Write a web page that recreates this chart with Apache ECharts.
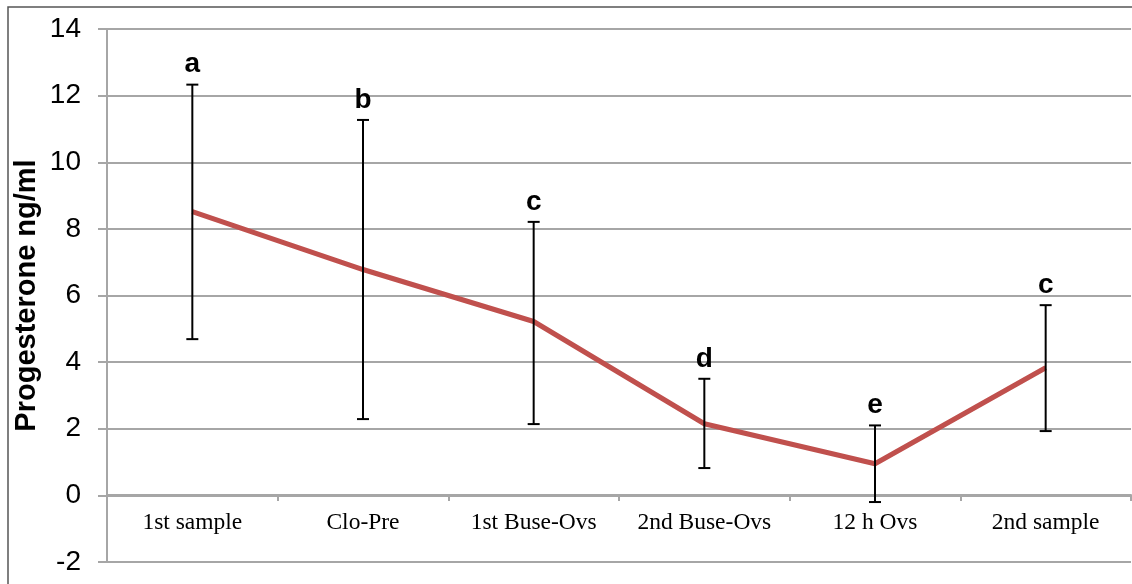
<!DOCTYPE html>
<html>
<head>
<meta charset="utf-8">
<script src="https://cdn.jsdelivr.net/npm/echarts@6/dist/echarts.min.js"></script>
<style>
html,body{margin:0;padding:0;background:#fff;}
#chart{width:1132px;height:584px;}
</style>
</head>
<body>
<div id="chart"></div>
<script>
const categories = ['1st sample', 'Clo-Pre', '1st Buse-Ovs', '2nd Buse-Ovs', '12 h Ovs', '2nd sample'];
const meanValues = [8.52, 6.78, 5.22, 2.15, 0.95, 3.83];
const upperValues = [12.33, 11.27, 8.21, 3.5, 2.1, 5.71];
const lowerValues = [4.69, 2.29, 2.14, 0.82, -0.2, 1.93];
const letters = ['a', 'b', 'c', 'd', 'e', 'c'];
const yTicks = [-2, 0, 2, 4, 6, 8, 10, 12, 14];

const errData = categories.map((c, i) => [i, lowerValues[i], upperValues[i], letters[i]]);

const chart = echarts.init(document.getElementById('chart'), null, {renderer: 'canvas'});
const gridColor = '#a6a6a6';
chart.setOption({
  animation: false,
  backgroundColor: '#fff',
  graphic: [{
    type: 'rect', shape: {x: 8, y: 7, width: 1200, height: 600},
    style: {fill: 'none', stroke: '#555', lineWidth: 1.5}, z: -1
  }],
  grid: {left: 107, right: 1, top: 29, bottom: 22, containLabel: false, outerBoundsMode: 'none'},
  xAxis: {
    type: 'category', data: categories, boundaryGap: true, position: 'bottom', offset: -67,
    axisLine: {onZero: false, lineStyle: {color: gridColor, width: 2}},
    axisTick: {show: true, interval: 0, alignWithLabel: false, length: 6, inside: false, lineStyle: {color: gridColor, width: 2}},
    axisLabel: {interval: 0, color: '#000', fontFamily: 'Liberation Serif', fontSize: 23.5, margin: 16},
    splitLine: {show: false}
  },
  yAxis: {
    type: 'value', min: -2, max: 14, interval: 2,
    name: 'Progesterone ng/ml', nameLocation: 'middle', nameGap: 66, nameRotate: 90, nameMoveOverlap: false,
    nameTextStyle: {fontFamily: 'Liberation Sans', fontWeight: 'bold', fontSize: 29, color: '#000'},
    axisLine: {show: true, lineStyle: {color: gridColor, width: 2}},
    axisTick: {show: true, length: 9, lineStyle: {color: gridColor, width: 2}},
    axisLabel: {color: '#000', fontFamily: 'Liberation Sans', fontSize: 28, margin: 26,
      formatter: v => yTicks.includes(v) ? String(v) : ''},
    splitLine: {show: true, lineStyle: {color: gridColor, width: 2}}
  },
  series: [
    {
      type: 'line', data: meanValues, symbol: 'none',
      lineStyle: {color: '#c0504d', width: 5}, z: 3
    },
    {
      type: 'custom', data: errData, z: 4,
      renderItem: function (params, api) {
        const x = api.value(0);
        const lo = api.coord([x, api.value(1)]);
        const hi = api.coord([x, api.value(2)]);
        const cap = 6;
        const st = {stroke: '#000', lineWidth: 2};
        return {
          type: 'group',
          children: [
            {type: 'line', shape: {x1: hi[0], y1: hi[1], x2: lo[0], y2: lo[1]}, style: st},
            {type: 'line', shape: {x1: hi[0] - cap, y1: hi[1], x2: hi[0] + cap, y2: hi[1]}, style: st},
            {type: 'line', shape: {x1: lo[0] - cap, y1: lo[1], x2: lo[0] + cap, y2: lo[1]}, style: st},
            {type: 'text', style: {text: api.value(3), x: hi[0], y: hi[1] - 6,
              align: 'center', verticalAlign: 'bottom', fill: '#000',
              font: 'bold 28px "Liberation Sans"'}}
          ]
        };
      }
    }
  ]
});
</script>
</body>
</html>
